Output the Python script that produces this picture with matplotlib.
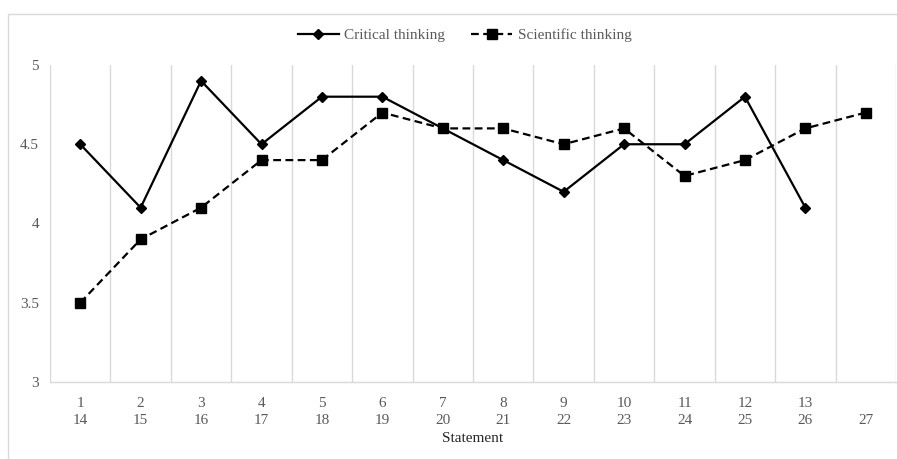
import numpy as np
import matplotlib.pyplot as plt
from matplotlib.patches import Rectangle

# data
statements = ["1\n14", "2\n15", "3\n16", "4\n17", "5\n18", "6\n19", "7\n20",
              "8\n21", "9\n22", "10\n23", "11\n24", "12\n25", "13\n26", "\n27"]
critical = [4.5, 4.1, 4.9, 4.5, 4.8, 4.8, 4.6, 4.4, 4.2, 4.5, 4.5, 4.8, 4.1]
scientific = [3.5, 3.9, 4.1, 4.4, 4.4, 4.7, 4.6, 4.6, 4.5, 4.6, 4.3, 4.4, 4.6, 4.7]
yticks = [3, 3.5, 4, 4.5, 5]

plt.rcParams['font.family'] = ['Liberation Serif', 'DejaVu Serif']

fig = plt.figure(figsize=(8.97, 4.59), dpi=100)
ax = fig.add_axes([50 / 897, 1 - 382 / 459, 846 / 897, (382 - 65) / 459])

# chart border
fig.patches.append(Rectangle((8 / 897, -0.01), 1.0, 1 - 14 / 459 + 0.01,
                             transform=fig.transFigure, fill=False,
                             edgecolor='#d9d9d9', linewidth=1.0))

x = np.arange(len(statements))
ax.plot(x[:len(critical)], critical, color='black', linewidth=1.6,
        marker='D', markersize=5, label='Critical thinking')
ax.plot(x, scientific, color='black', linewidth=1.6, linestyle=(0, (3.5, 2)),
        marker='s', markersize=7, label='Scientific thinking')

ax.set_xlim(-0.5, len(statements) - 0.5)
ax.set_ylim(3, 5)
ax.set_xticks(x)
ax.set_xticklabels(statements, fontsize=11, color='#595959', linespacing=1.35)
ax.set_xticks(np.arange(-0.5, len(statements)), minor=True)
ax.set_yticks(yticks)
ax.set_yticklabels([f"{v:g}" for v in yticks], fontsize=11, color='#595959')
ax.tick_params(axis='both', which='both', length=0)
ax.tick_params(axis='x', pad=11)
ax.tick_params(axis='y', pad=8)
ax.grid(True, which='minor', axis='x', color='#d9d9d9', linewidth=1.0)
ax.grid(False, which='major')

for side in ['top', 'right', 'left']:
    ax.spines[side].set_visible(False)
ax.spines['bottom'].set_color('#d9d9d9')
ax.spines['bottom'].set_linewidth(1.0)

ax.set_xlabel('Statement', fontsize=11, color='#262626', labelpad=4)

leg = ax.legend(loc='center', bbox_to_anchor=(0.49, 1 + (65 - 35) / 317),
                ncol=2, frameon=False, fontsize=11, handlelength=2.7,
                columnspacing=1.7, handletextpad=0.35)
for t in leg.get_texts():
    t.set_color('#595959')

fig.savefig('out.png', dpi=100)
